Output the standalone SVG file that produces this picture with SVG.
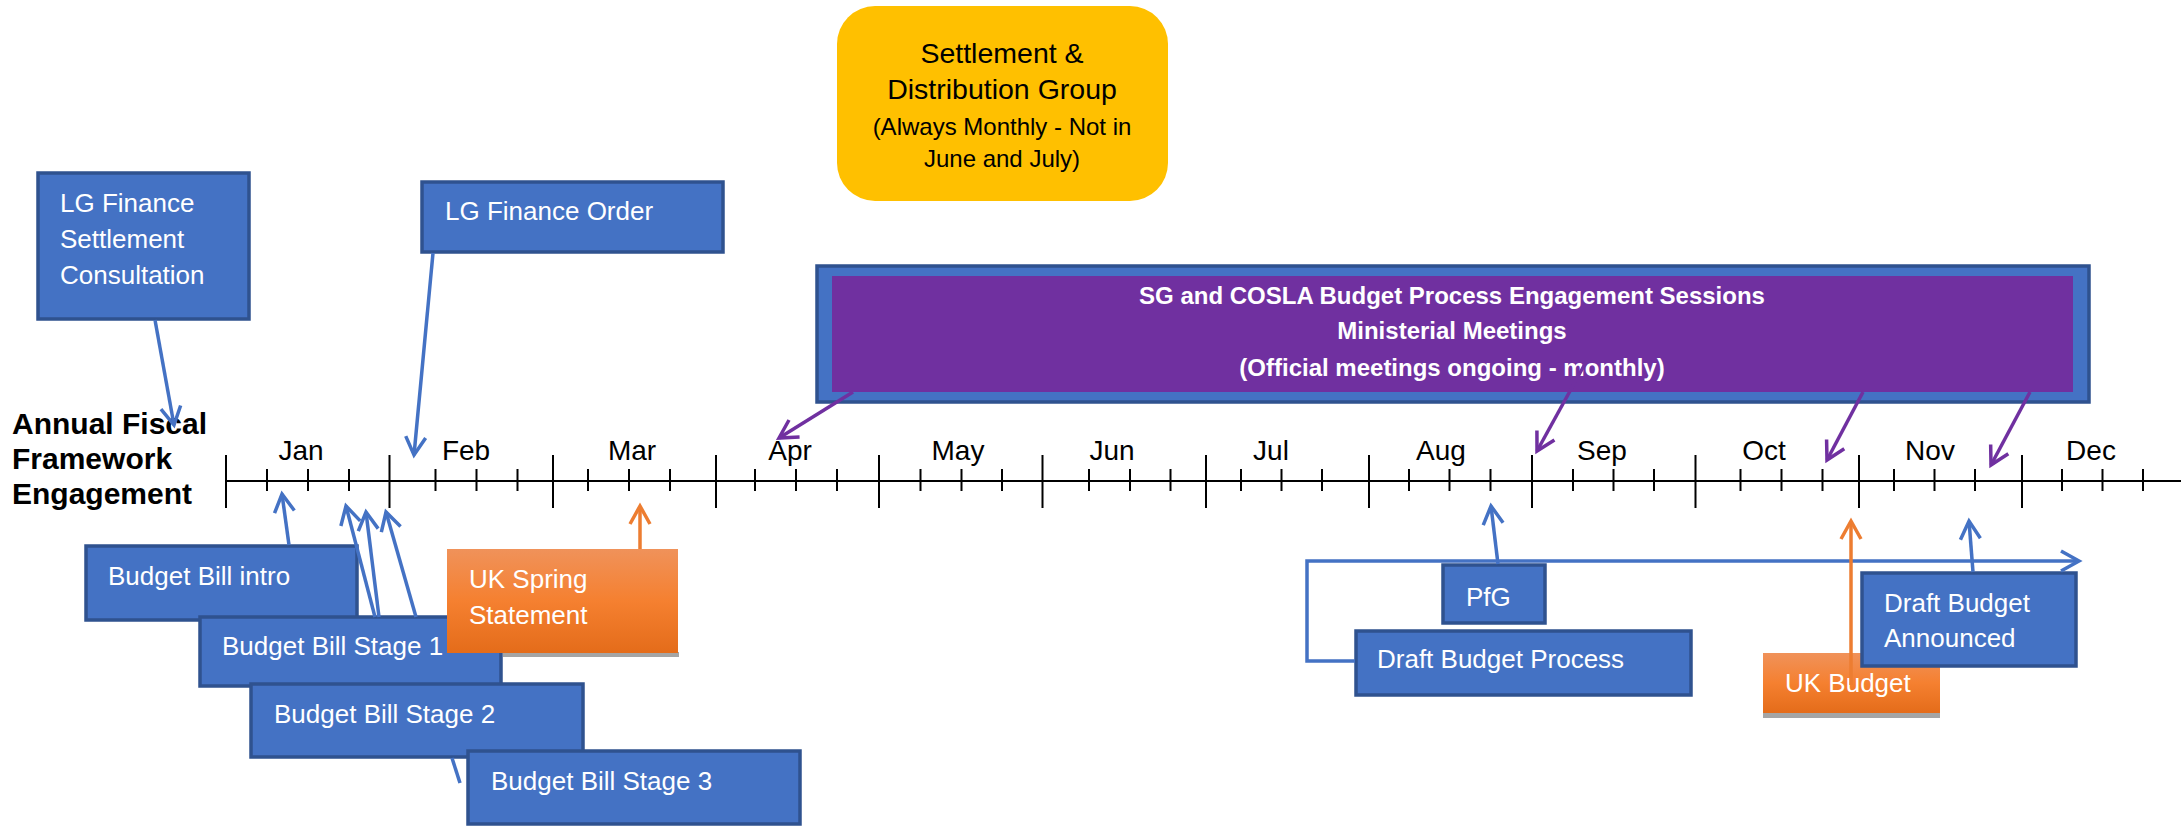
<svg xmlns="http://www.w3.org/2000/svg" width="2181" height="826" viewBox="0 0 2181 826">
  <defs>
    <style>
      .box { fill: #4472C4; stroke: #2F528F; stroke-width: 3.5; }
      .lbl { font-family: "Liberation Sans", Arial, sans-serif; font-size: 26px; fill: #FFFFFF; }
      .month { font-family: "Liberation Sans", Arial, sans-serif; font-size: 28px; fill: #000000; text-anchor: middle; }
      .title { font-family: "Liberation Sans", Arial, sans-serif; font-size: 30px; font-weight: bold; fill: #000000; }
      .purple-txt { font-family: "Liberation Sans", Arial, sans-serif; font-size: 24px; font-weight: bold; fill: #FFFFFF; text-anchor: middle; }
      .sdg-big { font-family: "Liberation Sans", Arial, sans-serif; font-size: 28.5px; fill: #000000; text-anchor: middle; }
      .sdg-small { font-family: "Liberation Sans", Arial, sans-serif; font-size: 24px; fill: #000000; text-anchor: middle; }
      .axis { stroke: #000000; stroke-width: 2; fill: none; }
      .c-blue { stroke: #4472C4; stroke-width: 3.5; fill: none; }
      .c-purple { stroke: #7030A0; stroke-width: 3.5; fill: none; }
      .c-orange { stroke: #ED7D31; stroke-width: 3.5; fill: none; }
      .shadow { fill: #A5A5A5; }
    </style>
    <linearGradient id="orangeFill" x1="0" y1="0" x2="0" y2="1">
      <stop offset="0" stop-color="#F0925A"/>
      <stop offset="0.5" stop-color="#F58030"/>
      <stop offset="1" stop-color="#E46C1A"/>
    </linearGradient>
    <marker id="ah-blue" viewBox="-22 -14 26 28" refX="0" refY="0" markerWidth="26" markerHeight="28" orient="auto" markerUnits="userSpaceOnUse" overflow="visible">
      <path d="M-18,-10 L0,0 L-18,10" fill="none" stroke="#4472C4" stroke-width="3.5"/>
    </marker>
    <marker id="ah-purple" viewBox="-22 -14 26 28" refX="0" refY="0" markerWidth="26" markerHeight="28" orient="auto" markerUnits="userSpaceOnUse" overflow="visible">
      <path d="M-18,-10 L0,0 L-18,10" fill="none" stroke="#7030A0" stroke-width="3.5"/>
    </marker>
    <marker id="ah-orange" viewBox="-22 -14 26 28" refX="0" refY="0" markerWidth="26" markerHeight="28" orient="auto" markerUnits="userSpaceOnUse" overflow="visible">
      <path d="M-18,-10 L0,0 L-18,10" fill="none" stroke="#ED7D31" stroke-width="3.5"/>
    </marker>
  </defs>

  <rect x="0" y="0" width="2181" height="826" fill="#FFFFFF"/>

  <!-- Timeline axis with month and week ticks -->
  <g id="timeline">
    <text class="title" x="12" y="434">Annual Fiscal</text>
    <text class="title" x="12" y="469">Framework</text>
    <text class="title" x="12" y="504">Engagement</text>
    <line class="axis" x1="226" y1="481" x2="2181" y2="481"/>
    <path class="axis" d="M226,455V508 M389.5,455V508 M553,455V508 M716,455V508 M879,455V508 M1042.5,455V508 M1206,455V508 M1369,455V508 M1532,455V508 M1695.5,455V508 M1859,455V508 M2022,455V508"/>
    <path class="axis" d="M267,469V491 M308,469V491 M349,469V491 M435.5,469V491 M476.5,469V491 M517.5,469V491 M588,469V491 M629,469V491 M670,469V491 M755,469V491 M796,469V491 M837,469V491 M920.5,469V491 M961.5,469V491 M1002,469V491 M1089,469V491 M1130,469V491 M1170.5,469V491 M1241,469V491 M1281.5,469V491 M1322,469V491 M1409,469V491 M1449.5,469V491 M1490.5,469V491 M1573,469V491 M1613.5,469V491 M1654,469V491 M1740.5,469V491 M1781.5,469V491 M1822.5,469V491 M1894,469V491 M1934.5,469V491 M1975,469V491 M2062,469V491 M2102.5,469V491 M2143,469V491"/>
    <text class="month" x="301" y="460">Jan</text>
    <text class="month" x="466" y="460">Feb</text>
    <text class="month" x="632" y="460">Mar</text>
    <text class="month" x="790" y="460">Apr</text>
    <text class="month" x="958" y="460">May</text>
    <text class="month" x="1112" y="460">Jun</text>
    <text class="month" x="1271" y="460">Jul</text>
    <text class="month" x="1441" y="460">Aug</text>
    <text class="month" x="1602" y="460">Sep</text>
    <text class="month" x="1764" y="460">Oct</text>
    <text class="month" x="1930" y="460">Nov</text>
    <text class="month" x="2091" y="460">Dec</text>
  </g>

  <g id="lg-settlement">
    <rect class="box" x="38" y="173" width="211" height="146"/>
    <text class="lbl" x="60" y="212">LG Finance</text>
    <text class="lbl" x="60" y="248">Settlement</text>
    <text class="lbl" x="60" y="284">Consultation</text>
  </g>

  <g id="lg-order">
    <rect class="box" x="422" y="182" width="301" height="70"/>
    <text class="lbl" x="445" y="220">LG Finance Order</text>
  </g>

  <g id="sdg">
    <rect x="837" y="6" width="331" height="195" rx="38" ry="38" fill="#FFC000"/>
    <text class="sdg-big" x="1002" y="63">Settlement &amp;</text>
    <text class="sdg-big" x="1002" y="99">Distribution Group</text>
    <text class="sdg-small" x="1002" y="135">(Always Monthly - Not in</text>
    <text class="sdg-small" x="1002" y="167">June and July)</text>
  </g>

  <g id="engagement-sessions">
    <rect class="box" x="817" y="266" width="1272" height="136"/>
    <rect x="832" y="276" width="1241" height="116" fill="#7030A0"/>
    <text class="purple-txt" x="1452" y="304">SG and COSLA Budget Process Engagement Sessions</text>
    <text class="purple-txt" x="1452" y="339">Ministerial Meetings</text>
    <text class="purple-txt" x="1452" y="376">(Official meetings ongoing - monthly)</text>
  </g>

  <g id="budget-bill-intro">
    <rect class="box" x="86" y="546" width="271" height="74"/>
    <text class="lbl" x="108" y="585">Budget Bill intro</text>
  </g>

  <g id="budget-bill-stage-1">
    <rect class="box" x="200" y="617" width="301" height="69"/>
    <text class="lbl" x="222" y="655">Budget Bill Stage 1</text>
  </g>

  <g id="uk-spring-statement">
    <rect class="shadow" x="503" y="652" width="176" height="5"/>
    <rect x="447" y="549" width="231" height="104" fill="url(#orangeFill)"/>
    <text class="lbl" x="469" y="588">UK Spring</text>
    <text class="lbl" x="469" y="624">Statement</text>
  </g>

  <g id="budget-bill-stage-2">
    <rect class="box" x="251" y="684" width="332" height="73"/>
    <text class="lbl" x="274" y="723">Budget Bill Stage 2</text>
  </g>

  <g id="budget-bill-stage-3">
    <rect class="box" x="468" y="751" width="332" height="73"/>
    <text class="lbl" x="491" y="790">Budget Bill Stage 3</text>
  </g>

  <g id="pfg">
    <rect class="box" x="1443" y="565" width="102" height="58"/>
    <text class="lbl" x="1466" y="606">PfG</text>
  </g>

  <g id="draft-budget-process">
    <rect class="box" x="1356" y="631" width="335" height="64"/>
    <text class="lbl" x="1377" y="668">Draft Budget Process</text>
  </g>

  <g id="uk-budget">
    <rect class="shadow" x="1763" y="712" width="177" height="6"/>
    <rect x="1763" y="653" width="177" height="60" fill="url(#orangeFill)"/>
    <text class="lbl" x="1785" y="692">UK Budget</text>
  </g>

  <g id="draft-budget-announced">
    <rect class="box" x="1862" y="573" width="214" height="93"/>
    <text class="lbl" x="1884" y="612">Draft Budget</text>
    <text class="lbl" x="1884" y="647">Announced</text>
  </g>

  <!-- Connectors -->
  <g id="connectors">
    <path class="c-blue" d="M155,320 L174,425" marker-end="url(#ah-blue)"/>
    <path class="c-blue" d="M433,253 L414,455" marker-end="url(#ah-blue)"/>
    <path class="c-blue" d="M289,545 L282,494" marker-end="url(#ah-blue)"/>
    <path class="c-blue" d="M375,617 L346,506" marker-end="url(#ah-blue)"/>
    <path class="c-blue" d="M379,617 L366,512" marker-end="url(#ah-blue)"/>
    <path class="c-blue" d="M416,617 L386,512" marker-end="url(#ah-blue)"/>
    <path class="c-blue" d="M460,783 L452,758"/>
    <path class="c-orange" d="M640,549 L640,506" marker-end="url(#ah-orange)"/>
    <path class="c-purple" d="M853,392 L779,438" marker-end="url(#ah-purple)"/>
    <path class="c-purple" d="M1586,362 L1537,451" marker-end="url(#ah-purple)"/>
    <path class="c-purple" d="M1863,392 L1827,460" marker-end="url(#ah-purple)"/>
    <path class="c-purple" d="M2030,392 L1991,465" marker-end="url(#ah-purple)"/>
    <path class="c-blue" d="M1498,564 L1491,506" marker-end="url(#ah-blue)"/>
    <path class="c-blue" d="M1355,661 H1307 V561 H2079" marker-end="url(#ah-blue)"/>
    <path class="c-orange" d="M1851,685 L1851,521" marker-end="url(#ah-orange)"/>
    <path class="c-blue" d="M1973,572 L1969,521" marker-end="url(#ah-blue)"/>
  </g>
</svg>
